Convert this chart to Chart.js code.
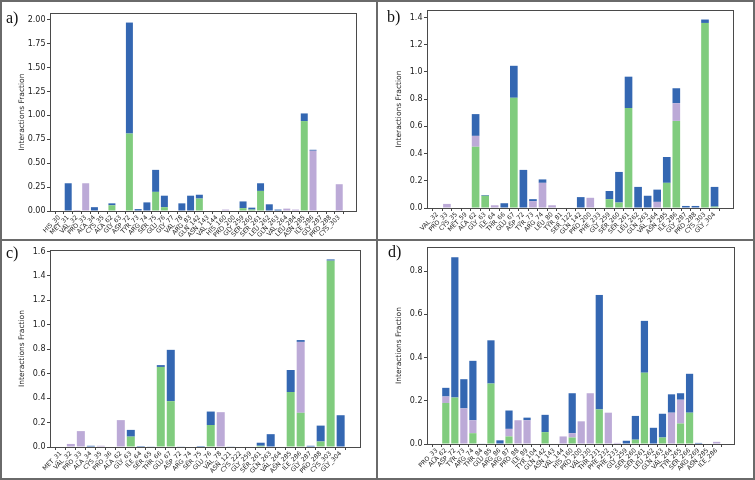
<!DOCTYPE html>
<html><head><meta charset="utf-8">
<script src="https://cdn.jsdelivr.net/npm/chart.js@4.4.1/dist/chart.umd.min.js"></script>
<style>
body{margin:0;background:#fff;}
#fig{position:relative;width:755px;height:480px;overflow:hidden;background:#fff;}
canvas{position:absolute;}
.lbl{position:absolute;font-family:"Liberation Serif","DejaVu Serif",serif;font-size:16px;line-height:16px;color:#111;}
.ln{position:absolute;background:#6a6a6a;}
</style></head><body>
<div id="fig">
<canvas id="ca" width="377" height="240" style="left:0;top:0;width:377px;height:240px"></canvas>
<canvas id="cb" width="378" height="240" style="left:377px;top:0;width:378px;height:240px"></canvas>
<canvas id="cc" width="377" height="240" style="left:0;top:240px;width:377px;height:240px"></canvas>
<canvas id="cd" width="378" height="240" style="left:377px;top:240px;width:378px;height:240px"></canvas>
<div class="lbl" style="left:6px;top:10px">a)</div>
<div class="lbl" style="left:387px;top:9px">b)</div>
<div class="lbl" style="left:6px;top:245px">c)</div>
<div class="lbl" style="left:388px;top:244px">d)</div>
<div class="ln" style="left:0;top:0;width:755px;height:2px"></div>
<div class="ln" style="left:0;top:478px;width:755px;height:2px"></div>
<div class="ln" style="left:0;top:0;width:2px;height:480px"></div>
<div class="ln" style="left:753px;top:0;width:2px;height:480px"></div>
<div class="ln" style="left:376px;top:0;width:2px;height:480px"></div>
<div class="ln" style="left:0;top:239px;width:755px;height:2px"></div>
</div>
<script>
// ---- Panel a ----
const aCategories = ['HIS_30','MET_31','VAL_32','PRO_33','ALA_34','CYS_35','ALA_62','GLY_63','ASP_72','TYR_73','ARG_74','SER_75','GLU_76','GLY_77','VAL_78','ARG_83','GLN_142','ASN_143','VAL_144','HIS_160','PRO_200','GLY_259','SER_260','SER_261','LEU_262','GLN_263','VAL_264','LEU_284','ASN_285','ILE_286','GLY_287','PRO_288','CYS_303'];
const aHbond  = [0,0,0,0,0,0,0.06,0,0.81,0,0,0.20,0.04,0,0,0,0.13,0,0,0,0,0.03,0.015,0.21,0,0,0,0,0.94,0,0,0,0];
const aHydro  = [0,0,0.01,0.29,0,0,0,0,0,0,0,0,0,0,0,0,0,0,0,0.015,0,0,0,0,0,0,0.025,0.015,0,0.63,0,0,0.28];
const aWater  = [0,0.29,0,0,0.04,0,0.02,0,1.16,0.02,0.09,0.23,0.12,0,0.08,0.16,0.04,0,0,0,0,0.07,0.02,0.08,0.07,0.015,0,0,0.08,0.01,0.005,0,0];
const aTicks  = [0,0.25,0.5,0.75,1.0,1.25,1.5,1.75,2.0];

// ---- Panel b ----
const bCategories = ['VAL_32','PRO_33','CYS_35','MET_59','ALA_62','GLY_63','ILE_64','THR_66','GLU_67','ASP_72','TYR_73','ARG_74','LEU_80','TYR_81','SER_122','GLN_142','PRO_200','PHE_233','GLY_259','SER_260','SER_261','LEU_262','GLN_263','VAL_264','ASN_285','ILE_286','GLY_287','PRO_288','CYS_303','GLY_304'];
const bHbond  = [0,0,0,0,0.45,0.09,0,0,0.81,0,0,0,0,0,0,0,0,0,0.065,0.04,0.735,0,0,0,0.185,0.64,0,0,1.36,0.01];
const bHydro  = [0,0.03,0,0,0.08,0,0.02,0,0,0,0.05,0.185,0.02,0,0,0,0.075,0,0,0,0,0,0,0.045,0,0.13,0,0,0,0];
const bWater  = [0,0,0,0,0.16,0.005,0,0.035,0.235,0.28,0.015,0.025,0,0,0,0.08,0,0,0.06,0.225,0.23,0.155,0.09,0.09,0.19,0.11,0.015,0.015,0.025,0.145];
const bTicks  = [0,0.2,0.4,0.6,0.8,1.0,1.2,1.4];

// ---- Panel c ----
const cCategories = ['MET_31','VAL_32','PRO_33','ALA_34','CYS_35','PRO_36','ALA_62','GLY_63','ILE_64','SER_65','THR_66','GLU_67','ASP_72','ARG_74','SER_75','GLU_76','VAL_78','ASN_121','CYS_222','GLY_259','SER_261','GLN_263','VAL_264','ASN_285','ILE_286','GLY_287','PRO_288','CYS_303','GLY_304'];
const cHbond  = [0,0,0,0,0,0,0,0.085,0,0,0.655,0.375,0,0,0,0.18,0,0,0,0,0.01,0,0,0.45,0.28,0,0.045,1.525,0];
const cHydro  = [0,0.025,0.13,0,0.01,0,0.22,0,0,0,0,0,0,0,0,0,0.285,0,0,0,0,0,0,0,0.58,0,0,0,0];
const cWater  = [0.004,0,0,0.01,0,0,0,0.055,0.008,0.003,0.015,0.42,0.003,0,0.008,0.11,0,0.003,0,0,0.025,0.105,0,0.18,0.015,0.01,0.13,0.01,0.26];
const cTicks  = [0,0.2,0.4,0.6,0.8,1.0,1.2,1.4,1.6];

// ---- Panel d ----
const dCategories = ['PRO_33','ALA_62','ASP_72','TYR_73','ARG_74','THR_84','GLU_85','ARG_86','ARG_87','PRO_88','ILE_89','TYR_104','GLN_142','ASN_143','VAL_144','HIS_160','PRO_200','VAL_230','THR_231','PHE_232','PHE_233','GLY_259','SER_260','SER_261','LEU_262','GLN_263','VAL_264','TYR_265','SER_266','ARG_269','ASN_285','ILE_286'];
const dHbond  = [0,0.19,0.215,0,0.05,0,0.28,0,0.035,0,0,0,0.055,0,0,0.03,0,0,0.16,0,0,0,0.02,0.33,0,0.03,0,0.095,0.145,0,0,0];
const dHydro  = [0,0.03,0,0.165,0.06,0,0,0,0.035,0.11,0.11,0,0,0,0.035,0.02,0.105,0.235,0,0.145,0.005,0,0,0,0,0,0.145,0.11,0,0,0,0.01];
const dWater  = [0,0.04,0.65,0.135,0.275,0.002,0.20,0.017,0.085,0,0.012,0,0.08,0,0,0.185,0,0,0.53,0,0,0.015,0.11,0.24,0.075,0.11,0.085,0.03,0.18,0.005,0,0];
const dTicks  = [0,0.2,0.4,0.6,0.8];

const GREEN = '#80cc7e', PURPLE = '#bcaad7', BLUE = '#3467b2';
const FONT = "'DejaVu Sans', sans-serif";

const framePlugin = {
  id: 'frame',
  afterDatasetsDraw(chart) {
    const a = chart.chartArea, ctx = chart.ctx;
    ctx.save();
    ctx.strokeStyle = '#4a4a4a';
    ctx.lineWidth = 1;
    ctx.strokeRect(Math.round(a.left) + 0.5, Math.round(a.top) + 0.5, Math.round(a.right - a.left) - 1, Math.round(a.bottom - a.top));
    ctx.restore();
  }
};

function makePanel(id, cats, hb, hy, wb, yTicks, yMax, dec, area, W, H) {
  const pts = arr => arr.map((v, i) => ({x: i, y: v}));
  const n = cats.length;
  new Chart(document.getElementById(id), {
    type: 'bar',
    data: {
      datasets: [
        {label: 'H-bonds', data: pts(hb), backgroundColor: GREEN},
        {label: 'Hydrophobic', data: pts(hy), backgroundColor: PURPLE},
        {label: 'Water bridges', data: pts(wb), backgroundColor: BLUE}
      ]
    },
    options: {
      responsive: false,
      animation: false,
      events: [],
      datasets: {bar: {barPercentage: 0.8, categoryPercentage: 1.0, borderWidth: 0}},
      layout: {padding: {left: 0, top: area.top, right: W - area.right, bottom: 0}},
      plugins: {legend: {display: false}, tooltip: {enabled: false}},
      scales: {
        x: {
          type: 'linear', stacked: true,
          min: -0.55, max: n - 1 + 1.5,
          afterBuildTicks: s => { s.ticks = cats.map((c, i) => ({value: i})); },
          afterFit: s => { s.height = H - area.bottom; },
          grid: {drawOnChartArea: false, drawTicks: true, tickLength: 3, color: '#444'},
          border: {display: false},
          ticks: {autoSkip: false, maxRotation: 45, minRotation: 45, padding: 0,
                  font: {family: FONT, size: 6.2}, color: '#1a1a1a',
                  callback: v => cats[Math.round(v)] ?? ''}
        },
        y: {
          stacked: true, min: 0, max: yMax,
          afterBuildTicks: s => { s.ticks = yTicks.map(v => ({value: v})); },
          afterFit: s => { s.width = area.left; },
          grid: {drawOnChartArea: false, drawTicks: true, tickLength: 3, color: '#444'},
          border: {display: false},
          ticks: {padding: 1.5, font: {family: FONT, size: 8}, color: '#1a1a1a',
                  callback: v => Number(v).toFixed(dec)},
          title: {display: true, text: 'Interactions Fraction', color: '#1a1a1a',
                  font: {family: FONT, size: 7.5}, padding: {top: 18, bottom: 0}}
        }
      }
    },
    plugins: [framePlugin]
  });
}

makePanel('ca', aCategories, aHbond, aHydro, aWater, aTicks, 2.07, 2, {left: 50, right: 357, top: 13, bottom: 211}, 377, 240);
makePanel('cb', bCategories, bHbond, bHydro, bWater, bTicks, 1.455, 1, {left: 50, right: 357, top: 10, bottom: 208}, 378, 240);
makePanel('cc', cCategories, cHbond, cHydro, cWater, cTicks, 1.612, 1, {left: 50, right: 361, top: 10, bottom: 207}, 377, 240);
makePanel('cd', dCategories, dHbond, dHydro, dWater, dTicks, 0.912, 1, {left: 50, right: 358, top: 7, bottom: 204}, 378, 240);
</script>
</body></html>
